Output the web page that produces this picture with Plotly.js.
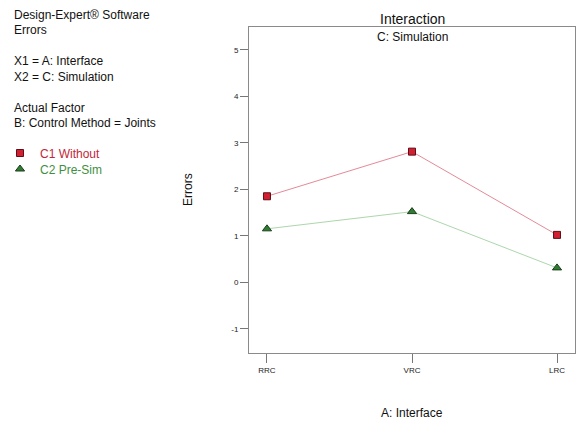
<!DOCTYPE html>
<html>
<head>
<meta charset="utf-8">
<script src="https://cdn.plot.ly/plotly-3.0.1.min.js"></script>
<style>
  html, body { margin: 0; padding: 0; background: #fff; }
  #chart { width: 583px; height: 424px; }
</style>
</head>
<body>
<div id="chart"></div>
<script>
// Interface levels (factor A)
const interfaces = ['RRC', 'VRC', 'LRC'];
// Predicted errors for each simulation level (factor C)
const c1Without = [1.85, 2.81, 1.02];
const c2PreSim = [1.15, 1.52, 0.31];
const yTicks = [-1, 0, 1, 2, 3, 4, 5];

const FONT = 'Liberation Sans, Arial, sans-serif';
const idx = interfaces.map((_, i) => i);

const traces = [
  { x: idx, y: c1Without, mode: 'lines', showlegend: false, hoverinfo: 'skip',
    line: { color: '#e48a98', width: 1 } },
  { x: idx, y: c2PreSim, mode: 'lines', showlegend: false, hoverinfo: 'skip',
    line: { color: '#add6ad', width: 1 } },
  { x: idx, y: c1Without, mode: 'markers', legend: 'legend',
    name: '<span style="color:#c0283a">C1 Without</span>',
    marker: { symbol: 'square', size: 7, color: '#d21f32', line: { color: '#5c1016', width: 1 } } },
  { x: idx, y: c2PreSim, mode: 'markers', legend: 'legend2',
    name: '<span style="color:#3f8f3f">C2 Pre-Sim</span>',
    marker: { symbol: 'triangle-up', size: 8, color: '#2f7d32', line: { color: '#1b3d1b', width: 1 } } }
];

const W = 326; // plot area width in px
const px = v => (v - 249) / W;          // page x → paper x
const H = 326; // plot area height in px
const py = v => 1 - (v - 27) / H;       // page y → paper y

const leftLines = [
  ['Design-Expert® Software', 15],
  ['Errors', 30],
  ['X1 = A: Interface', 61],
  ['X2 = C: Simulation', 77],
  ['Actual Factor', 108],
  ['B: Control Method = Joints', 123]
];

const annotations = leftLines.map(([t, y]) => ({
  text: t, xref: 'paper', yref: 'paper', x: px(12), y: py(y),
  xanchor: 'left', yanchor: 'middle', showarrow: false,
  font: { family: FONT, size: 12, color: '#111' }
}));

annotations.push(
  { text: 'Interaction', xref: 'paper', yref: 'paper', x: px(412), y: py(19),
    xanchor: 'center', yanchor: 'middle', showarrow: false,
    font: { family: FONT, size: 14, color: '#111' } },
  { text: 'C: Simulation', xref: 'paper', yref: 'paper', x: px(412), y: py(37),
    xanchor: 'center', yanchor: 'middle', showarrow: false,
    font: { family: FONT, size: 12, color: '#111' } },
  { text: 'A: Interface', xref: 'paper', yref: 'paper', x: px(412), y: py(413),
    xanchor: 'center', yanchor: 'middle', showarrow: false,
    font: { family: FONT, size: 12, color: '#111' } },
  { text: 'Errors', xref: 'paper', yref: 'paper', x: px(188), y: py(190),
    xanchor: 'center', yanchor: 'middle', showarrow: false, textangle: -90,
    font: { family: FONT, size: 12, color: '#111' } }
);

// Legends are placed in page (container) coordinates
const legendBase = {
  xref: 'container', yref: 'container', x: 0,
  xanchor: 'left', yanchor: 'middle',
  itemwidth: 30,
  font: { family: FONT, size: 12 },
  bgcolor: 'rgba(0,0,0,0)', borderwidth: 0
};

const layout = {
  width: 583, height: 424,
  margin: { l: 249, r: 8, t: 27, b: 71, pad: 0, autoexpand: false },
  paper_bgcolor: '#fff', plot_bgcolor: '#fff',
  showlegend: true,
  legend: Object.assign({}, legendBase, { y: 1 - 153 / 424 }),
  legend2: Object.assign({}, legendBase, { y: 1 - 169 / 424 }),
  xaxis: {
    type: 'linear', range: [-0.124, 2.124],
    tickvals: idx, ticktext: interfaces,
    ticks: 'outside', ticklen: 9, tickcolor: '#777', tickwidth: 1,
    showline: true, mirror: true, linecolor: '#8a8a8a', linewidth: 1,
    showgrid: false, zeroline: false,
    tickfont: { family: FONT, size: 8, color: '#222' }
  },
  yaxis: {
    range: [-1.52, 5.49],
    tickvals: yTicks, ticktext: yTicks.map(String),
    ticks: 'outside', ticklen: 8, tickcolor: '#777', tickwidth: 1,
    showline: true, mirror: true, linecolor: '#8a8a8a', linewidth: 1,
    showgrid: false, zeroline: false,
    tickfont: { family: FONT, size: 8, color: '#222' }
  },
  annotations: annotations
};

Plotly.newPlot('chart', traces, layout, { displayModeBar: false, staticPlot: true });
</script>
</body>
</html>
